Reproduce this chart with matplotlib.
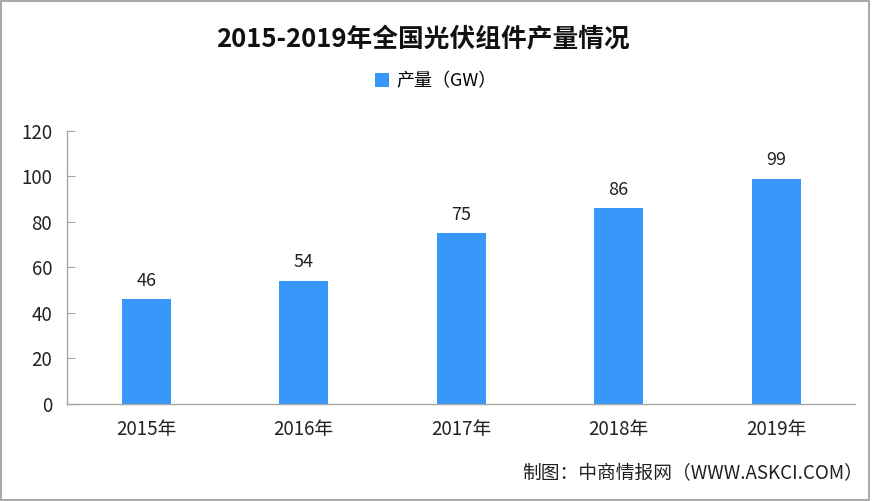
import numpy as np
import matplotlib
matplotlib.use('Agg')
import matplotlib.pyplot as plt
from matplotlib.patches import Rectangle

plt.rcParams['font.family'] = ['Noto Sans CJK SC', 'DejaVu Sans']

# daten
years = ['2015年', '2016年', '2017年', '2018年', '2019年']
output_gw = [46, 54, 75, 86, 99]
y_ticks = [0, 20, 40, 60, 80, 100, 120]

bar_color = '#3797FB'
axis_gray = '#a6a6a6'

fig = plt.figure(figsize=(8.72, 5.01), dpi=100)
ax = fig.add_axes([0.0774, 0.1936, 0.903, 0.545])

x = np.arange(len(years))
bars = ax.bar(x, output_gw, width=0.31, color=bar_color, label='产量（GW）')

# werte ueber den balken
for xi, v in zip(x, output_gw):
    ax.annotate(str(v), (xi, v), xytext=(0, 7), textcoords='offset points',
                ha='center', va='bottom', fontsize=13, color='#222222')

ax.set_xlim(-0.5, 4.5)
ax.set_ylim(0, 120)
ax.set_yticks(y_ticks)
ax.set_xticks(x)
ax.set_xticklabels(years)

for side in ['top', 'right']:
    ax.spines[side].set_visible(False)
for side in ['left', 'bottom']:
    ax.spines[side].set_color(axis_gray)
    ax.spines[side].set_linewidth(1.0)

ax.tick_params(axis='y', direction='in', length=6, color=axis_gray,
               labelsize=13.5, pad=11, labelcolor='#222222')
ax.tick_params(axis='x', length=0, labelsize=13.5, pad=11, labelcolor='#222222')

# titel und legende
fig.text(0.485, 0.92, '2015-2019年全国光伏组件产量情况', ha='center', va='center',
         fontsize=18.5, fontweight='bold', color='#111111')
fig.legend(handles=[bars], loc='center', bbox_to_anchor=(0.5, 0.838),
           frameon=False, fontsize=13, handlelength=0.8, handleheight=0.8,
           handletextpad=0.4)

# quelle
fig.text(0.99, 0.055, '制图：中商情报网（WWW.ASKCI.COM）', ha='right', va='center',
         fontsize=13.5, color='#222222')

# rahmen
fig.patches.append(Rectangle((0.001, 0.002), 0.996, 0.996, transform=fig.transFigure,
                             fill=False, edgecolor='#9a9a9a', linewidth=1.2))

fig.savefig('out.png', dpi=100)
